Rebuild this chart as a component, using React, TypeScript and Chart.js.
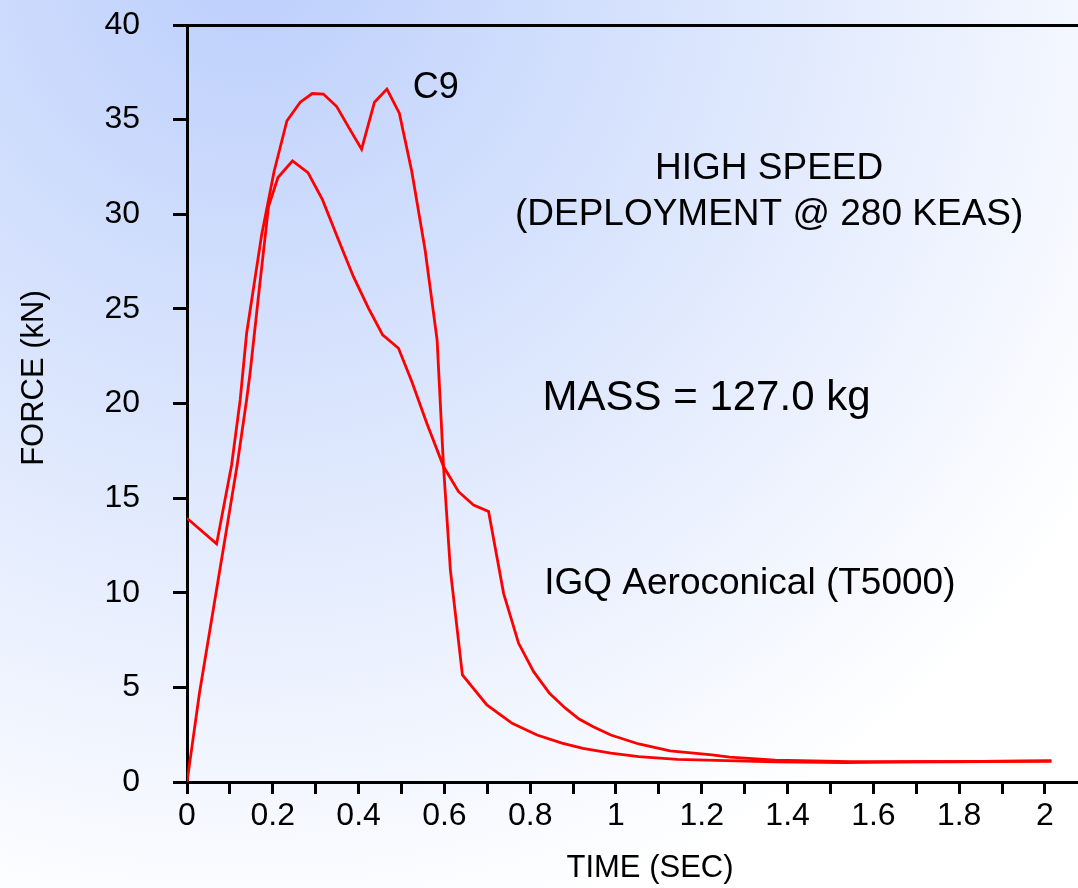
import React, { useEffect, useRef } from "react";
import { Chart, registerables } from "chart.js";

Chart.register(...registerables);

// C9 canopy (starts at ~14 kN, double peak, sharp drop)
const c9Time = [0, 0.069, 0.104, 0.124, 0.139, 0.174, 0.203, 0.233, 0.264, 0.292, 0.318, 0.349, 0.378, 0.407, 0.437, 0.466, 0.495, 0.524, 0.555, 0.583, 0.598, 0.614, 0.642, 0.699, 0.758, 0.816, 0.874, 0.923, 0.988, 1.053, 1.143, 1.257, 1.371, 1.534, 1.697, 1.85, 2.015];
const c9Force = [13.94, 12.58, 16.75, 20.19, 23.71, 28.91, 32.26, 34.94, 35.92, 36.38, 36.35, 35.69, 34.55, 33.44, 35.92, 36.61, 35.34, 32.26, 28.12, 23.36, 16.66, 11.2, 5.66, 4.07, 3.1, 2.48, 2.05, 1.78, 1.52, 1.34, 1.2, 1.13, 1.07, 1.02, 1.07, 1.09, 1.11];

// IGQ Aeroconical (T5000)
const igqTime = [0, 0.029, 0.117, 0.139, 0.147, 0.17, 0.19, 0.212, 0.246, 0.282, 0.316, 0.353, 0.388, 0.423, 0.456, 0.493, 0.524, 0.559, 0.598, 0.633, 0.668, 0.703, 0.738, 0.773, 0.808, 0.845, 0.882, 0.914, 0.947, 0.988, 1.053, 1.126, 1.224, 1.265, 1.371, 1.547, 1.78, 2.015];
const igqForce = [0, 4.69, 16.75, 20.2, 21.6, 26.36, 30.4, 31.94, 32.82, 32.2, 30.76, 28.65, 26.7, 25.04, 23.63, 22.92, 21.16, 18.96, 16.67, 15.34, 14.64, 14.29, 9.97, 7.33, 5.83, 4.69, 3.9, 3.33, 2.92, 2.48, 2.01, 1.65, 1.43, 1.31, 1.16, 1.08, 1.07, 1.11];

const xTickValues = [0, 0.1, 0.2, 0.3, 0.4, 0.5, 0.6, 0.7, 0.8, 0.9, 1.0, 1.1, 1.2, 1.3, 1.4, 1.5, 1.6, 1.7, 1.8, 1.9, 2.0];
const xTickLabels = ["0", "", "0.2", "", "0.4", "", "0.6", "", "0.8", "", "1", "", "1.2", "", "1.4", "", "1.6", "", "1.8", "", "2"];
const yTickValues = [0, 5, 10, 15, 20, 25, 30, 35, 40];

const annotationTexts = ["C9", "HIGH SPEED", "(DEPLOYMENT @ 280 KEAS)", "MASS = 127.0 kg", "IGQ Aeroconical (T5000)"];
const annotationX = [0.58, 1.357, 1.357, 1.211, 1.312];
const annotationY = [36.15, 31.85, 29.44, 19.66, 9.94];
const annotationSize = [36, 37, 37, 42, 37];

const FONT = '"Liberation Sans", Arial, Helvetica, sans-serif';

export default function App() {
  const ref = useRef<HTMLCanvasElement>(null);

  useEffect(() => {
    document.body.style.margin = "0";
    const canvas = ref.current;
    if (!canvas) return;

    const bgPlugin = {
      id: "bg",
      beforeDraw(chart: any) {
        const { ctx, width, height } = chart;
        const g = ctx.createRadialGradient(250, -40, 0, 250, -40, 1000);
        g.addColorStop(0, "#bccffc");
        g.addColorStop(0.5, "#dde7fd");
        g.addColorStop(1, "#ffffff");
        ctx.save();
        ctx.fillStyle = g;
        ctx.fillRect(0, 0, width, height);
        ctx.restore();
      },
    };

    const textPlugin = {
      id: "texts",
      afterDraw(chart: any) {
        const { ctx } = chart;
        const xs = chart.scales.x;
        const ys = chart.scales.y;
        ctx.save();
        ctx.fillStyle = "#000";
        ctx.textAlign = "center";
        ctx.textBaseline = "alphabetic";
        annotationTexts.forEach((t, i) => {
          ctx.font = `${annotationSize[i]}px ${FONT}`;
          ctx.fillText(t, xs.getPixelForValue(annotationX[i]), ys.getPixelForValue(annotationY[i]));
        });
        // axis titles
        ctx.font = `31px ${FONT}`;
        ctx.fillText("TIME (SEC)", 650, 877);
        ctx.translate(43, 378);
        ctx.rotate(-Math.PI / 2);
        ctx.fillText("FORCE (kN)", 0, 0);
        ctx.restore();
      },
    };

    const chart = new Chart(canvas, {
      type: "line",
      data: {
        datasets: [
          {
            label: "C9",
            data: c9Time.map((t, i) => ({ x: t, y: c9Force[i] })),
            borderColor: "#ff0000",
            borderWidth: 2.8,
            pointRadius: 0,
            tension: 0,
            fill: false,
          },
          {
            label: "IGQ Aeroconical (T5000)",
            data: igqTime.map((t, i) => ({ x: t, y: igqForce[i] })),
            borderColor: "#ff0000",
            borderWidth: 2.8,
            pointRadius: 0,
            tension: 0,
            fill: false,
          },
        ],
      },
      plugins: [bgPlugin, textPlugin],
      options: {
        animation: false,
        responsive: false,
        devicePixelRatio: 1,
        layout: { padding: { top: 25, left: 0, right: 0, bottom: 0 } },
        plugins: {
          legend: { display: false },
          tooltip: { enabled: false },
        },
        scales: {
          x: {
            type: "linear",
            min: 0,
            max: 2.077,
            afterBuildTicks(scale: any) {
              scale.ticks = xTickValues.map((v) => ({ value: v }));
            },
            afterFit(scale: any) {
              scale.height = 106;
              scale.paddingLeft = 0;
              scale.paddingRight = 0;
            },
            ticks: {
              autoSkip: false,
              maxRotation: 0,
              minRotation: 0,
              padding: 3,
              color: "#000",
              font: { family: FONT, size: 32 },
              callback: (_v: any, i: number) => xTickLabels[i],
            },
            grid: {
              drawOnChartArea: false,
              drawTicks: true,
              tickLength: 12,
              tickColor: "#000",
              tickWidth: 3,
              lineWidth: 3,
              color: "#000",
            },
            border: { display: true, color: "#000", width: 3 },
          },
          y: {
            type: "linear",
            min: 0,
            max: 40,
            afterBuildTicks(scale: any) {
              scale.ticks = yTickValues.map((v) => ({ value: v }));
            },
            afterFit(scale: any) {
              scale.width = 187;
              scale.paddingTop = 0;
              scale.paddingBottom = 0;
            },
            ticks: {
              padding: 33,
              color: "#000",
              font: { family: FONT, size: 32 },
              callback: (v: any) => String(v),
            },
            grid: {
              drawOnChartArea: true,
              drawTicks: true,
              tickLength: 14,
              tickColor: "#000",
              tickWidth: 3,
              lineWidth: 3,
              color: (c: any) => (c.tick && c.tick.value === 40 ? "#000" : "rgba(0,0,0,0)"),
            },
            border: { display: true, color: "#000", width: 3 },
          },
        },
      },
    } as any);

    return () => chart.destroy();
  }, []);

  return (
    <div style={{ width: 1078, height: 888 }}>
      <canvas ref={ref} width={1078} height={888} style={{ display: "block" }} />
    </div>
  );
}
